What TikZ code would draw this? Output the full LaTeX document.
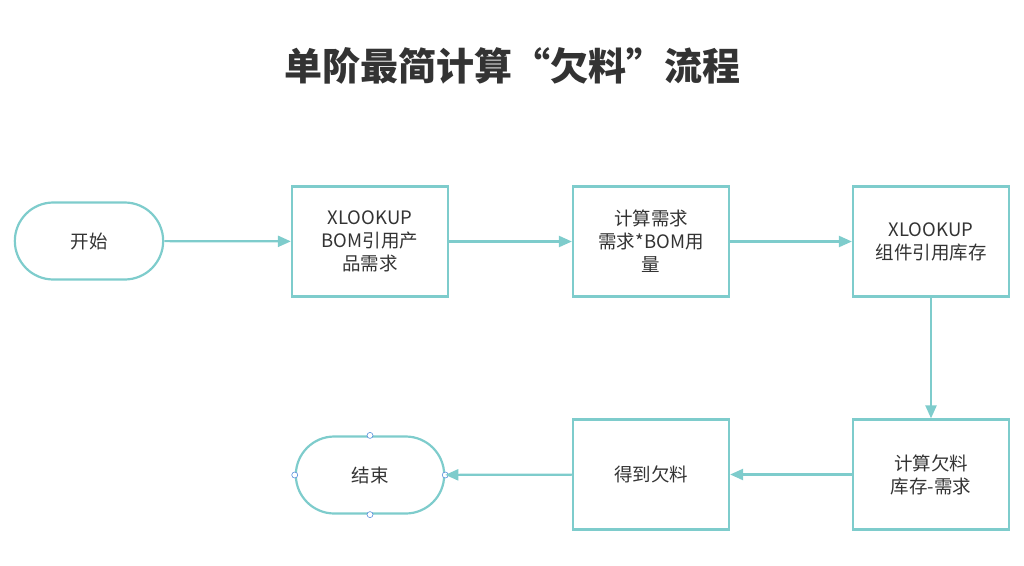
\documentclass[tikz,border=0pt]{standalone}
\usepackage{fontspec}
\setmainfont{Noto Sans CJK SC}
\usetikzlibrary{arrows.meta,shapes.misc}
\definecolor{teal1}{HTML}{7ECCCC}
\definecolor{txt}{HTML}{333333}
\begin{document}
\begin{tikzpicture}[x=1pt, y=-1pt,
box/.style = {rectangle, draw=teal1, line width=2.2pt, minimum width=156pt, minimum height=110pt, align=center, text=txt, font=\fontsize{18.5}{23}\selectfont},
term/.style = {rounded rectangle, draw=teal1, line width=2.2pt, minimum width=155pt, minimum height=77pt, text=txt, font=\fontsize{18.5}{23}\selectfont},
flow/.style = {draw=teal1, line width=2.2pt, -{Triangle[length=13pt,width=11pt]}},
handle/.style = {circle, draw=teal1!70!blue, fill=white, inner sep=0pt, minimum size=6pt, line width=0.6pt}]
\useasboundingbox (0,0) rectangle (1024,565);
\node[text=txt, font=\fontsize{38}{42}\selectfont\bfseries] (title) at (512,66) {单阶最简计算“欠料”流程};
\node[term] (start) at (89,241) {开始};
\node[box] (b1) at (370,241.5) {XLOOKUP\\BOM引用产\\品需求};
\node[box] (b2) at (651,241.5) {计算需求\\需求*BOM用\\量};
\node[box] (b3) at (931,241.5) {XLOOKUP\\组件引用库存};
\node[box] (b4) at (931,474.5) {计算欠料\\库存-需求};
\node[box] (b5) at (651,474.5) {得到欠料};
\node[term] (stop) at (370,475) {结束};
% selection handles on the end node
\foreach \a in {north,south,east,west}
  \node[handle] at (stop.\a) {};
\draw[flow] (start) -- (b1);
\draw[flow] (b1) -- (b2);
\draw[flow] (b2) -- (b3);
\draw[flow] (b3) -- (b4);
\draw[flow] (b4) -- (b5);
\draw[flow] (b5) -- (stop);
\end{tikzpicture}
\end{document}
